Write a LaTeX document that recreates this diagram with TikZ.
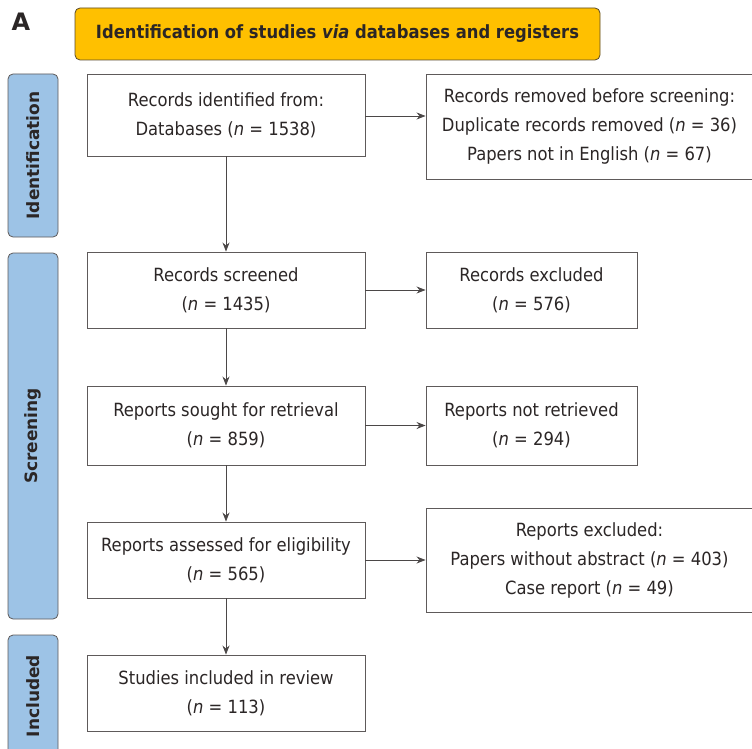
\documentclass[tikz,border=0pt]{standalone}
\usepackage{fontspec}
\setmainfont{DejaVu Sans Condensed}
\newfontfamily\widefont{DejaVu Sans}
\usetikzlibrary{arrows.meta}
\definecolor{titlegold}{HTML}{FFC000}
\definecolor{titleedge}{HTML}{5A4A2A}
\definecolor{phaseblue}{HTML}{9DC3E6}
\definecolor{edgegray}{HTML}{5E5A5A}
\definecolor{inkgray}{HTML}{2B2626}
\newcommand{\boxfont}{\fontsize{18.2}{29}\selectfont}
\newcommand{\headfont}{\fontsize{18.2}{20}\selectfont\bfseries}
\newcommand{\phasefont}{\widefont\fontsize{17}{20}\selectfont\bfseries}
\begin{document}
\begin{tikzpicture}[
  x=1pt,y=-1pt,
  stepbox/.style={draw=edgegray,fill=white,line width=0.9pt,inner sep=0pt,align=center,text=inkgray,font=\boxfont},
  phase/.style={draw=edgegray,fill=phaseblue,rounded corners=5pt,line width=0.8pt,inner sep=0pt,rotate=90,minimum height=50pt,text=inkgray,font=\phasefont},
  flow/.style={-{Stealth[length=9pt,width=7pt]},draw=inkgray!85,line width=0.9pt}
]
\useasboundingbox (0,0) rectangle (752,749);

\def\xmain{226}
\def\xside{531.5}
\def\xwide{589.5}

% heading
\node[font=\widefont\fontsize{24}{24}\selectfont\bfseries,text=inkgray] (panel) at (21,22) {A};
\node[draw=titleedge,fill=titlegold,rounded corners=5pt,line width=0.8pt,minimum width=525pt,minimum height=52pt,inner sep=0pt,text=inkgray,font=\headfont] (title) at (337.5,34)
  {Identification of studies \textit{via} databases and registers};

% phase labels
\node[phase,minimum width=163pt] (identification) at (33,155.5) {Identification};
\node[phase,minimum width=366pt] (screening) at (33,436) {Screening};
\node[phase,minimum width=122pt] (included) at (33,696) {Included};

% main column
\node[stepbox,minimum width=278pt,minimum height=82pt] (identified) at (\xmain,115) {Records identified from:\\Databases (\textit{n} = 1538)};
\node[stepbox,minimum width=278pt,minimum height=76pt] (screened) at (\xmain,290) {Records screened\\(\textit{n} = 1435)};
\node[stepbox,minimum width=278pt,minimum height=79pt] (sought) at (\xmain,425.5) {Reports sought for retrieval\\(\textit{n} = 859)};
\node[stepbox,minimum width=278pt,minimum height=76pt] (assessed) at (\xmain,560) {Reports assessed for eligibility\\(\textit{n} = 565)};
\node[stepbox,minimum width=278pt,minimum height=76pt] (includedstudies) at (\xmain,693) {Studies included in review\\(\textit{n} = 113)};

% side column
\node[stepbox,minimum width=327pt,minimum height=105pt] (removed) at (\xwide,126.5) {Records removed before screening:\\Duplicate records removed (\textit{n} = 36)\\Papers not in English (\textit{n} = 67)};
\node[stepbox,minimum width=211pt,minimum height=76pt] (excluded) at (\xside,290) {Records excluded\\(\textit{n} = 576)};
\node[stepbox,minimum width=211pt,minimum height=79pt] (notretrieved) at (\xside,425.5) {Reports not retrieved\\(\textit{n} = 294)};
\node[stepbox,minimum width=327pt,minimum height=104pt] (reportsexcl) at (\xwide,560) {Reports excluded:\\Papers without abstract (\textit{n} = 403)\\Case report (\textit{n} = 49)};

% arrows down
\draw[flow] (identified) -- (screened);
\draw[flow] (screened) -- (sought);
\draw[flow] (sought) -- (assessed);
\draw[flow] (assessed) -- (includedstudies);

% arrows right
\draw[flow] ([yshift=-1pt]identified.east) -- ([yshift=-1pt]identified.east -| removed.west);
\draw[flow] (screened) -- (excluded);
\draw[flow] (sought) -- (notretrieved);
\draw[flow] (assessed) -- (reportsexcl);

\end{tikzpicture}
\end{document}
